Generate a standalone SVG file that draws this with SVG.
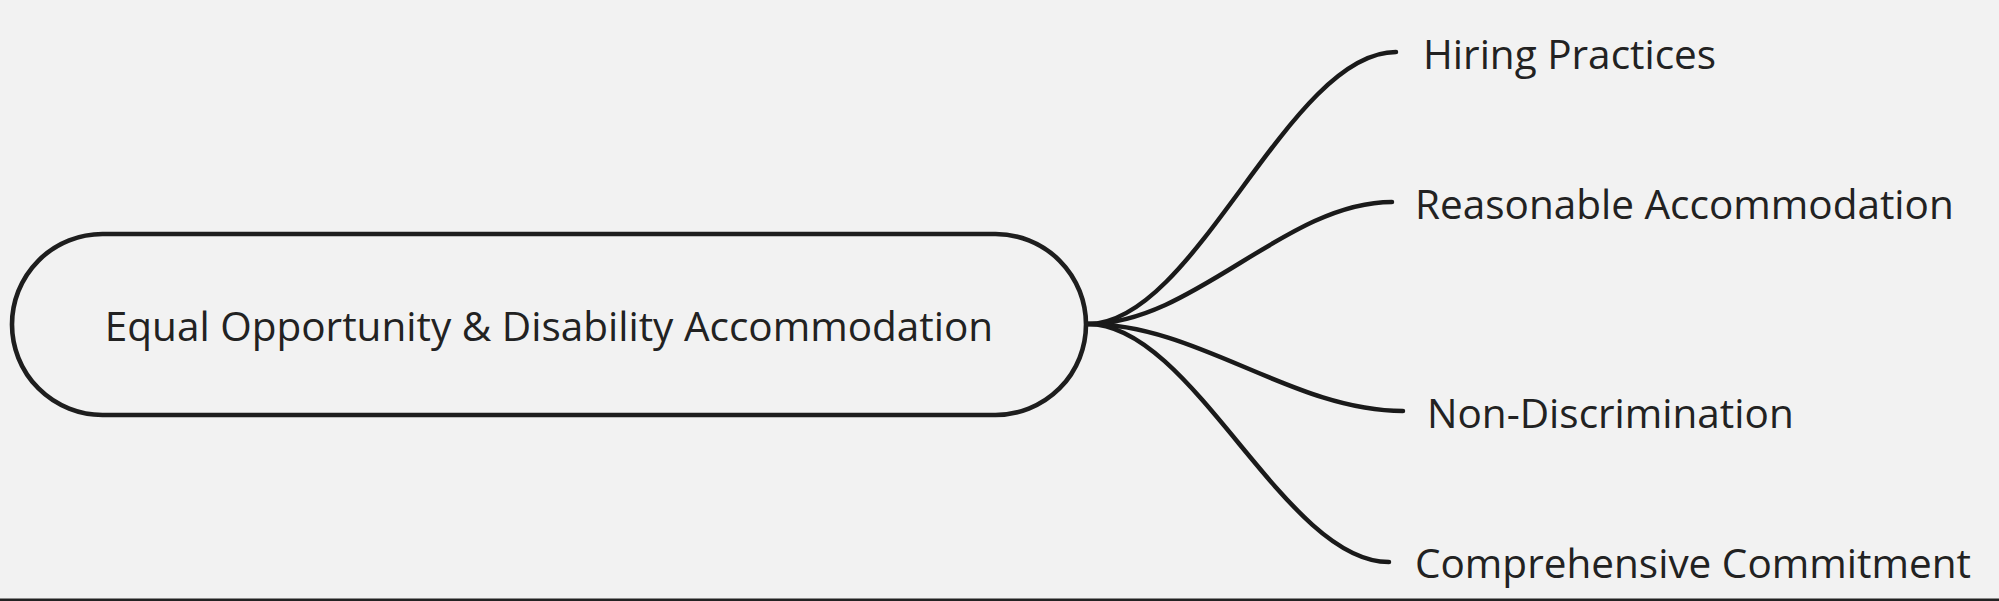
<svg xmlns="http://www.w3.org/2000/svg" width="1999" height="601" viewBox="0 0 1999 601">
<style>
.bg{fill:#f2f2f2}
.node{fill:#f2f2f2;stroke:#1e1e1e;stroke-width:4.6}
.lbl{font-family:"Open Sans","Noto Sans","Liberation Sans",sans-serif;font-size:40.5px;fill:#222}
.conn{fill:none;stroke:#1a1a1a;stroke-width:4.5;stroke-linecap:round}
</style>
<rect class="bg" x="0" y="0" width="1999" height="601"/>
<rect x="0" y="598.5" width="1999" height="2.5" fill="#222"/>
<g id="connectors">
<path class="conn" d="M1088,324 C1196,324 1288,52 1396,52"/>
<path class="conn" d="M1088,324 C1194,324 1286,202 1392,202"/>
<path class="conn" d="M1088,324 C1198,324 1293,411 1403,411"/>
<path class="conn" d="M1088,324 C1193,324 1284,562 1389,562"/>
</g>
<g id="root">
<rect class="node" x="12" y="234" width="1074" height="181" rx="90.5" ry="90.5"/>
<text class="lbl" x="549" y="341" text-anchor="middle">Equal Opportunity &amp; Disability Accommodation</text>
</g>
<g id="hiring"><text class="lbl" x="1423" y="69">Hiring Practices</text></g>
<g id="reasonable"><text class="lbl" x="1415" y="219">Reasonable Accommodation</text></g>
<g id="nondisc"><text class="lbl" x="1427" y="428">Non-Discrimination</text></g>
<g id="comprehensive"><text class="lbl" x="1415" y="578">Comprehensive Commitment</text></g>
</svg>
